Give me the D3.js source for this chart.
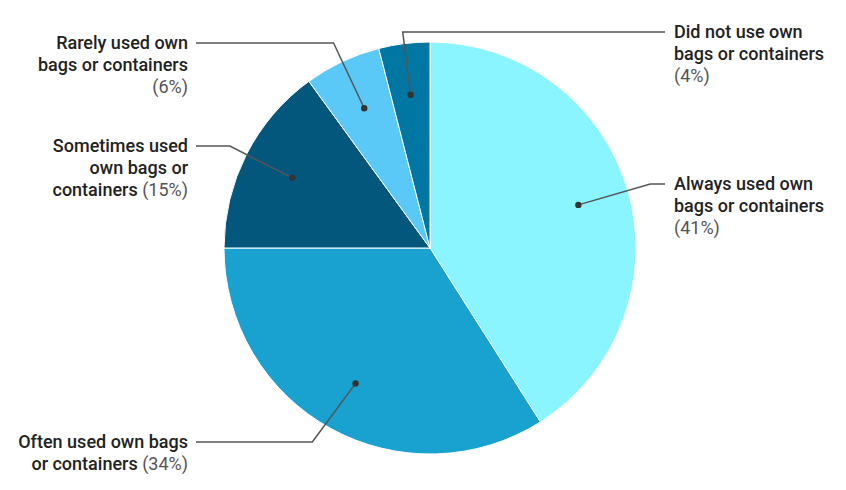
<!DOCTYPE html>
<html>
<head>
<meta charset="utf-8">
<script src="https://cdn.jsdelivr.net/npm/d3@7"></script>
<style>
html,body{margin:0;padding:0;background:#fff;}
svg{display:block;font-family:Roboto,"Noto Sans",sans-serif;}
</style>
</head>
<body>
<svg id="chart" width="846" height="490"></svg>
<script>
const categories = [
  "Always used own bags or containers",
  "Often used own bags or containers",
  "Sometimes used own bags or containers",
  "Rarely used own bags or containers",
  "Did not use own bags or containers"
];
const values = [41, 34, 15, 6, 4];
const colors = ["#8af4ff", "#19a1cf", "#03567c", "#5bc9f7", "#0077a3"];
// label text lines (bold part), last line also carries the percent
const labelLines = [
  ["Always used own", "bags or containers", ""],
  ["Often used own bags", "or containers"],
  ["Sometimes used", "own bags or", "containers"],
  ["Rarely used own", "bags or containers", ""],
  ["Did not use own", "bags or containers", ""]
];
// layout: side, vertical position of first label line, elbow nudge
const labelSide = ["right", "left", "left", "left", "right"];
const labelY = [184, 442, 146, 43, 32];
const elbowNudge = [0, -11, 0, 0, 0];

const svg = d3.select("#chart");
const cx = 430, cy = 248, R = 206;
const g = svg.append("g").attr("transform", `translate(${cx},${cy})`);

const pie = d3.pie().sort(null).value(d => d)(values);
const arc = d3.arc().innerRadius(0).outerRadius(R);

g.selectAll("path.slice").data(pie).join("path")
  .attr("class", "slice")
  .attr("d", arc)
  .attr("fill", (d, i) => colors[i])
  .attr("stroke", "#fff")
  .attr("stroke-width", 1);

const fmt = d3.format(".0f");
const total = d3.sum(values);

pie.forEach((d, i) => {
  const a = (d.startAngle + d.endAngle) / 2;
  const r0 = 0.75 * R;
  const px = r0 * Math.sin(a), py = -r0 * Math.cos(a);
  const ly = labelY[i] - cy;
  // elbow on radial line at label height
  const ex = ly * Math.sin(a) / (-Math.cos(a)) + elbowNudge[i];
  const right = labelSide[i] === "right";
  const lineEnd = right ? 665 - cx : 196 - cx;
  const textX = right ? 674 - cx : 188 - cx;

  g.append("polyline")
    .attr("points", `${px},${py} ${ex},${ly} ${lineEnd},${ly}`)
    .attr("fill", "none")
    .attr("stroke", "#555")
    .attr("stroke-width", 1.5);
  g.append("circle").attr("cx", px).attr("cy", py).attr("r", 3.2).attr("fill", "#333");

  const t = g.append("text")
    .attr("x", textX)
    .attr("y", ly)
    .attr("text-anchor", right ? "start" : "end")
    .attr("font-size", 18)
    .attr("fill", "#222");
  const lines = labelLines[i];
  const pct = "(" + fmt(values[i] / total * 100) + "%)";
  lines.forEach((ln, j) => {
    const ts = t.append("tspan")
      .attr("x", textX)
      .attr("y", ly + j * 22)
      .attr("dy", "0.35em");
    if (ln) ts.append("tspan").attr("font-weight", 500).text(ln);
    if (j === lines.length - 1) {
      ts.append("tspan").attr("font-weight", 400).attr("fill", "#555")
        .text((ln ? " " : "") + pct);
    }
  });
});
</script>
</body>
</html>
